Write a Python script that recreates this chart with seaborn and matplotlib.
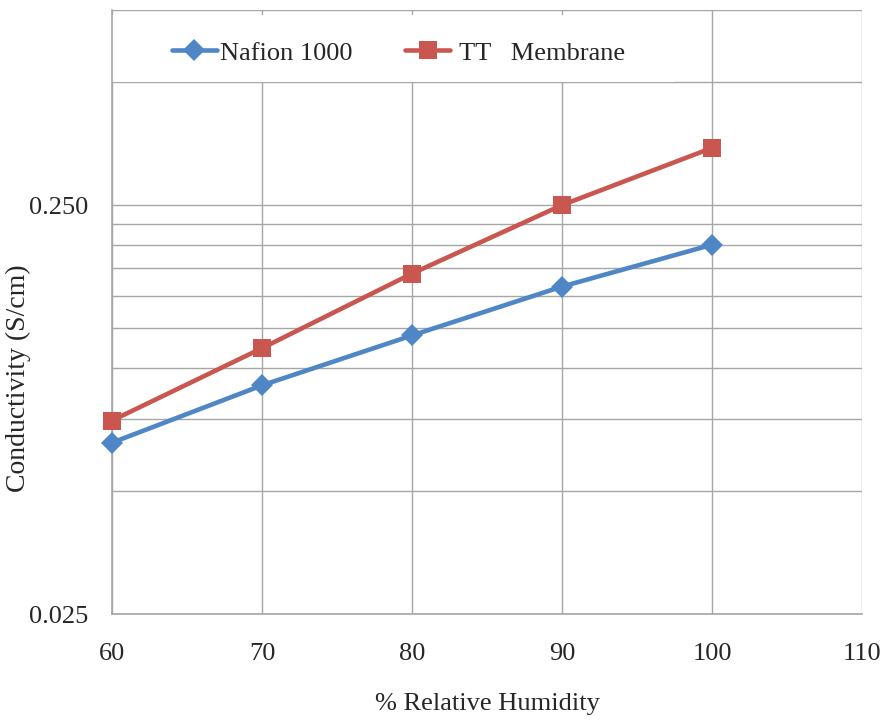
import matplotlib
matplotlib.use("Agg")
import matplotlib.pyplot as plt
import matplotlib.ticker as mticker
from matplotlib.patches import Rectangle
import seaborn as sns
import pandas as pd

humidity = [60, 70, 80, 90, 100]
nafion = [0.0656, 0.0906, 0.120, 0.158, 0.200]
tt_membrane = [0.0743, 0.1117, 0.170, 0.250, 0.345]
series_names = ["Nafion 1000", " TT   Membrane"]

df = pd.DataFrame({
    "RH": humidity * 2,
    "cond": nafion + tt_membrane,
    "series": [series_names[0]] * len(humidity) + [series_names[1]] * len(humidity),
})

sns.set_style("white")
plt.rcParams['font.family'] = ['Liberation Serif', 'DejaVu Serif']

fig = plt.figure(figsize=(8.94, 7.21), dpi=100)
ax = fig.add_axes([112/894, 107/721, 750/894, 604/721])

blue = "#4F86C6"
red = "#C9574F"
sns.lineplot(data=df, x="RH", y="cond", hue="series", style="series",
             palette=[blue, red], markers=["D", "s"], dashes=False,
             linewidth=3.3, markersize=11, markeredgewidth=0, ax=ax, zorder=3,
             legend=True)
for ln in ax.get_lines():
    ln.set_clip_on(False)
    if ln.get_marker() == "s":
        ln.set_markersize(13)
    elif ln.get_marker() == "D":
        ln.set_markersize(11)

ax.set_yscale("log")
ax.set_xlim(60, 110)
ax.set_ylim(0.025, 0.75)

ax.xaxis.set_major_locator(mticker.FixedLocator([60, 70, 80, 90, 100, 110]))
ax.yaxis.set_major_locator(mticker.FixedLocator([0.025, 0.25]))
ax.yaxis.set_major_formatter(mticker.FuncFormatter(lambda v, p: f"{v:.3f}"))
minor = [0.025 * k for k in range(2, 10)] + [0.25 * k for k in range(2, 4)]
ax.yaxis.set_minor_locator(mticker.FixedLocator(minor))
ax.yaxis.set_minor_formatter(mticker.NullFormatter())

ax.grid(True, which="both", axis="both", color="#A6A6A6", linewidth=1.0)
ax.set_axisbelow(True)
for s in ["top", "right"]:
    ax.spines[s].set_visible(False)
for s in ["left", "bottom"]:
    ax.spines[s].set_color("#A6A6A6")
    ax.spines[s].set_linewidth(1.2)

ax.tick_params(axis="both", which="major", direction="out", length=5, color="#A6A6A6",
               labelsize=19)
ax.tick_params(axis="y", which="major", pad=12)
ax.tick_params(axis="x", which="major", pad=16)
ax.tick_params(axis="y", which="minor", direction="out", length=3.5, color="#A6A6A6")

ax.set_xlabel("% Relative Humidity", fontsize=19)
ax.set_ylabel("Conductivity (S/cm)", fontsize=20)
ax.xaxis.set_label_coords(0.501, -0.131)
ax.yaxis.set_label_coords(-0.108, 0.39)

# white legend area covering the gridlines
ax.add_patch(Rectangle((0.0, (614 - 82) / 604), (675 - 112) / 750, (82 - 15) / 604,
                       transform=ax.transAxes, facecolor="white", edgecolor="none",
                       zorder=1))

leg = ax.legend(loc="center left", bbox_to_anchor=((172 - 112) / 750, (614 - 53) / 604),
                ncol=2, frameon=False, fontsize=19, handlelength=1.7,
                handletextpad=0.12, columnspacing=2.0, borderpad=0.0,
                borderaxespad=0.0)
leg.set_zorder(5)
for h in leg.legend_handles:
    h.set_linewidth(3.3)

fig.savefig("out.png", dpi=100)
